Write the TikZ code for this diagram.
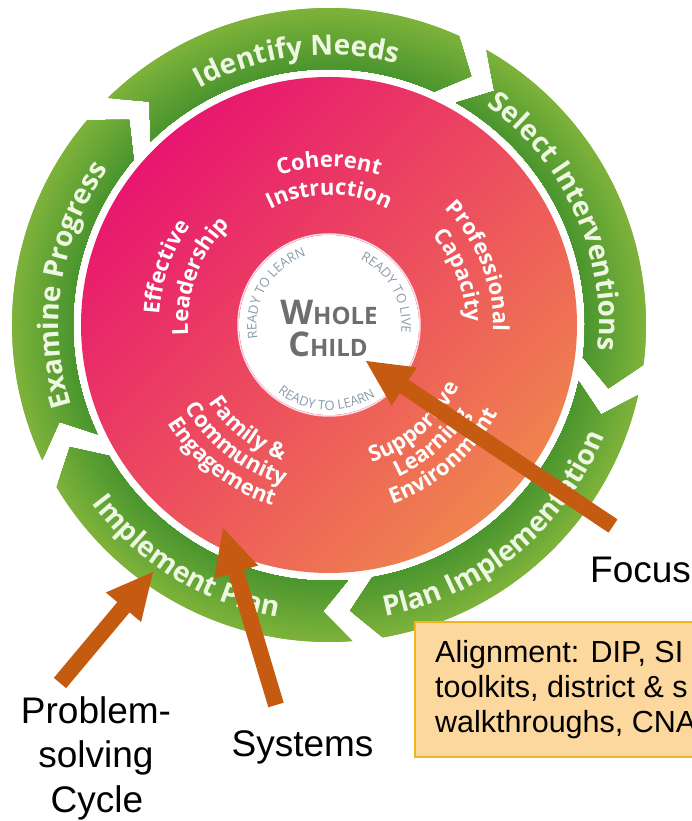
\documentclass[tikz,border=0pt]{standalone}
\usepackage{fontspec}
\setmainfont{Liberation Sans}
\newfontfamily\osans{Open Sans}
\usetikzlibrary{decorations.text,calc}
\definecolor{gOut}{HTML}{80B43B}
\definecolor{gIn}{HTML}{4A952E}
\definecolor{gtext}{HTML}{EEF7E2}
\definecolor{pinkA}{HTML}{E8166F}
\definecolor{pinkM}{HTML}{EE5E67}
\definecolor{orangeB}{HTML}{F0844E}
\definecolor{arrowc}{HTML}{C55A11}
\definecolor{boxfill}{HTML}{FDD89E}
\definecolor{boxline}{HTML}{F2B520}
\definecolor{wholec}{HTML}{6E6E6E}
\definecolor{readyc}{HTML}{8A9BAC}
\newcommand\wgfont{\osans\bfseries\fontsize{28}{28}\selectfont\color{gtext}}
\newcommand\wpfont{\osans\bfseries\fontsize{22}{22}\selectfont\color{white}}
\newcommand\wrfont{\osans\fontsize{13}{13}\selectfont\color{readyc}}
\newcommand\arctext[5]{%
  \path[decorate,decoration={text along path,text align=center,text={|#1|#5}}]
    (#3:#2) arc[start angle=#3,end angle=#4,radius=#2 pt];}
\def\wRo{317}\def\wRi{256}\def\wRm{286.5}\def\wgap{5.5}\def\wtip{5.5}
\newcommand\wseg[2]{%
  \begin{scope}
    \pgfmathsetmacro\segA{#1-\wgap/2}
    \pgfmathsetmacro\segB{#2+\wgap/2}
    \pgfmathsetmacro\segAt{\segA-\wtip}
    \pgfmathsetmacro\segBt{\segB-\wtip}
    \clip (\segA:\wRo) arc[start angle=\segA,end angle=\segB,radius=\wRo pt]
      -- (\segBt:\wRm) -- (\segB:\wRi)
      arc[start angle=\segB,end angle=\segA,radius=\wRi pt]
      -- (\segAt:\wRm) -- cycle;
    \foreach \k in {0,...,30}{
      \pgfmathsetmacro\rr{\wRo+3-\k*(\wRo-\wRi+3)/30}
      \pgfmathtruncatemacro\pp{100-\k*100/30}
      \fill[gOut!\pp!gIn] (0,0) circle[radius=\rr pt];
    }
  \end{scope}}
\newcommand\blockarrow[2]{%
  \coordinate (#2-base) at ($(#2)!46pt!(#1)$);
  \draw[arrowc,line width=16pt] (#1) -- ($(#2)!40pt!(#1)$);
  \fill[arrowc] (#2) -- ($(#2-base)!23pt!90:(#2)$) -- ($(#2-base)!23pt!-90:(#2)$) -- cycle;}
\tikzset{
  caption/.style={font=\fontsize{37}{44}\selectfont,inner sep=0pt,text=black,anchor=base},
  boxtext/.style={font=\fontsize{30.5}{35}\selectfont,inner sep=0pt,text=black,anchor=base west},
  wholetext/.style={font=\osans\bfseries,text=wholec,inner sep=0pt,anchor=base},
}
\begin{document}
\begin{tikzpicture}[x=1pt,y=1pt]
\useasboundingbox (0,0) rectangle (692,821);
\clip (0,0) rectangle (692,821);
\fill[white] (0,0) rectangle (692,821);
\begin{scope}[shift={(329,496)}]
  % green cycle
  \wseg{137}{63}
  \wseg{63}{-10}
  \wseg{-10}{-83}
  \wseg{-83}{-152}
  \wseg{208}{137}
  \arctext{\wgfont}{270}{157}{37}{Identify Needs}
  \arctext{\wgfont}{270}{94.5}{-45.5}{Select Interventions}
  \arctext{\wgfont}{270}{241}{101}{Examine Progress}
  \arctext{\wgfont}{297}{-120.5}{19.5}{Plan Implementation}
  \arctext{\wgfont}{297}{178.5}{298.5}{Implement Plan}
  % pink disk
  \shade[top color=pinkA,middle color=pinkM,bottom color=orangeB,shading angle=45]
    (0,0) circle[radius=248pt];
  \arctext{\wpfont}{158}{150}{30}{Coherent}
  \arctext{\wpfont}{130}{150}{30}{Instruction}
  \arctext{\wpfont}{170}{220.5}{100.5}{Effective}
  \arctext{\wpfont}{141}{219.5}{99.5}{Leadership}
  \arctext{\wpfont}{164}{81.5}{-38.5}{Professional}
  \arctext{\wpfont}{137}{81}{-39}{Capacity}
  \arctext{\wpfont}{143}{172}{292}{Family {\&}}
  \arctext{\wpfont}{166}{172}{292}{Community}
  \arctext{\wpfont}{189}{172}{292}{Engagement}
  \arctext{\wpfont}{144}{251}{371}{Supportive}
  \arctext{\wpfont}{167}{251}{371}{Learning}
  \arctext{\wpfont}{190}{251}{371}{Environment}
  % whole child
  \fill[white] (0,0) circle[radius=90pt];
  \draw[white!85!pinkA,line width=1.5pt] (0,0) circle[radius=91pt];
  \arctext{\wrfont}{72.5}{229.5}{69.5}{READY TO LEARN}
  \arctext{\wrfont}{72.5}{109}{-51}{READY TO LIVE}
  \arctext{\wrfont}{85}{188}{348}{READY TO LEARN}
  \node[wholetext] (whole) at (0,0) {{\fontsize{34}{34}\selectfont W}{\fontsize{24}{24}\selectfont HOLE}};
  \node[wholetext] (child) at (-1,-32) {{\fontsize{34}{34}\selectfont C}{\fontsize{24}{24}\selectfont HILD}};
\end{scope}
% alignment box
\draw[boxline,fill=boxfill,line width=1.5pt] (415,64) rectangle (720,199);
\node[boxtext] (al1) at (435,158) {Alignment: DIP, SI};
\node[boxtext] (al2) at (435,123) {toolkits, district \& s};
\node[boxtext] (al3) at (435,88) {walkthroughs, CNA};
% captions
\node[caption,anchor=base west] (focus) at (590,238) {Focus};
\node[caption] (systems) at (302.5,64) {Systems};
\node[caption] (ps1) at (96,97) {Problem-};
\node[caption] (ps2) at (96,53) {solving};
\node[caption] (ps3) at (97,9) {Cycle};
% arrows
\coordinate (pstail) at (60,138);
\coordinate (pstip) at (153,249);
\coordinate (systail) at (276,116);
\coordinate (systip) at (223,293);
\coordinate (focustail) at (613,295);
\coordinate (focustip) at (366,460);
\blockarrow{pstail}{pstip}
\blockarrow{systail}{systip}
\blockarrow{focustail}{focustip}
\end{tikzpicture}
\end{document}
